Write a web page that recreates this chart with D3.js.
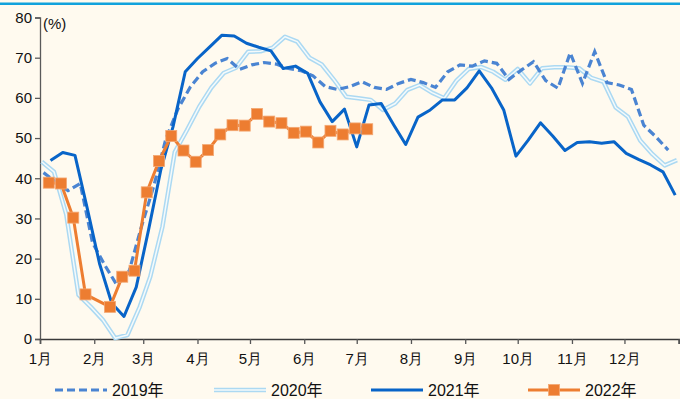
<!DOCTYPE html>
<html>
<head>
<meta charset="utf-8">
<script src="https://cdn.jsdelivr.net/npm/d3@7"></script>
<style>
body { margin: 0; background: #fffaef; }
svg { display: block; font-family: "Liberation Sans", Arial, "Noto Sans CJK SC", sans-serif; }
</style>
</head>
<body>
<svg id="chart" width="680" height="399"></svg>
<script>
// weekly readings, first Thursday of each year; null = no reading that week
const months = ["1月", "2月", "3月", "4月", "5月", "6月", "7月", "8月", "9月", "10月", "11月", "12月"];
const yTicks = [0, 10, 20, 30, 40, 50, 60, 70, 80];
const years = ["2019年", "2020年", "2021年", "2022年"];
const firstWeek = ["2019-01-03", "2020-01-02", "2021-01-07", "2022-01-06"];

const v2019 = [41.4, 39.1, 36.9, 38.7, 24, 18.4, 13.4, 17, 28, 38, 49.9, 57.4, 62.8, 66.5, 68.6, 69.8, 67.1, 68.2,
  68.8, 68.4, 67.3, 66.8, 65.5, 62.8, 62.1, 62.8, 64.0, 62.6, 62.1, 63.6, 64.6, 63.8, 62.6, 66.5, 68.2, 67.9,
  69.2, 68.6, 64.6, 66.9, 69.0, 64.3, 62.4, 71.2, 63.6, 71.5, 63.8, 63.2, 62.1, 53.2, 50.3, 47.0];
const v2020 = [44.1, 41.6, 31, 11, 8.0, 4.7, 0.2, 1.0, 8.0, 15.5, 28, 46.5, 52, 57.8, 62.6, 66.2, 67.5, 71.5,
  71.6, 72.5, 75.2, 74.0, 70.0, 68.3, 64.5, 60.3, 59.9, 59.5, 57.0, 58.6, 62.0, 63.2, 61.3, 59.9, 64.3, 67.2,
  67.7, 66.5, 64.5, 67.2, 63.6, 67.4, 67.6, 67.6, 67.4, 65.0, 64.0, 57.6, 55.3, 49.4, 46.0, 43.2, 44.5];
const v2021 = [44.4, 46.4, 45.7, 32.5, 18.8, 8.9, 5.6, 12.9, 27.1, 42.0, 52.8, 66.5, 69.8, 72.7, 75.6, 75.4, 73.6, 72.6,
  71.7, 67.3, 67.9, 66.1, 59.0, 54.1, 57.2, 47.8, 58.2, 58.6, 53.4, 48.4, 55.2, 57.0, 59.5, 59.5, 62.5, 66.7,
  62.5, 57.0, 45.5, 49.5, 53.8, 50.5, 46.9, 48.9, 49.1, 48.7, 49.1, 46.2, 44.7, 43.3, 41.6, 35.8];
const v2022 = [38.9, 38.7, 30.2, 11.1, null, 8.0, 15.5, 17.0, 36.5, 44.3, 50.5, 46.9, 44.1, 47.0, 50.9, 53.2, 53.1, 56.0,
  54.1, 53.7, 51.3, 51.6, 48.9, 51.8, 50.9, 52.4, 52.2];

const bg = "#fffaef";
const svg = d3.select("#chart");
svg.append("rect").attr("width", 680).attr("height", 399).attr("fill", bg);
svg.append("rect").attr("x", 0).attr("y", 2.5).attr("width", 680).attr("height", 2.5).attr("fill", "#12a2dc");

const x = d3.scaleTime().domain([new Date(2022, 0, 1), new Date(2023, 0, 1)]).range([40, 678.7]);
const y = d3.scaleLinear().domain([0, 80]).range([339, 17.5]);

// put every year on the same Jan-Dec axis
function toPoints(start, vals) {
  const s = d3.timeParse("%Y-%m-%d")(start);
  return vals.map((v, i) => {
    const d = d3.timeDay.offset(s, 7 * i);
    return { date: new Date(2022, d.getMonth(), d.getDate()), value: v };
  }).filter(p => p.value != null);
}

const line = d3.line().x(d => x(d.date)).y(d => y(d.value));

// axes
const yAxis = svg.append("g").attr("transform", "translate(40,0)")
  .call(d3.axisLeft(y).tickValues(yTicks).tickSize(5).tickPadding(3));
yAxis.selectAll("path, line").attr("stroke", "#5a5a5a").attr("stroke-width", 1.3);
yAxis.selectAll("text").attr("font-size", 15).attr("fill", "#111");

const xAxis = svg.append("g").attr("transform", "translate(0,339)")
  .call(d3.axisBottom(x)
    .tickValues(d3.range(13).map(m => new Date(2022, m, 1)))
    .tickFormat((d, i) => months[i] || "")
    .tickSize(5).tickPadding(9));
xAxis.select("path").attr("stroke", "#3a3a3a").attr("stroke-width", 1.5);
xAxis.selectAll("line").attr("stroke", "#555").attr("stroke-width", 1.3);
xAxis.selectAll("text").attr("font-size", 15).attr("fill", "#111");

svg.append("text").attr("x", 43).attr("y", 29).attr("font-size", 15).attr("fill", "#111").text("(%)");

// series
const p2019 = toPoints(firstWeek[0], v2019);
const p2020 = toPoints(firstWeek[1], v2020);
const p2021 = toPoints(firstWeek[2], v2021);
const p2022 = toPoints(firstWeek[3], v2022);

svg.append("path").datum(p2020).attr("d", line).attr("fill", "none")
  .attr("stroke", "#acd9f2").attr("stroke-width", 4.5).attr("stroke-linejoin", "round");
svg.append("path").datum(p2020).attr("d", line).attr("fill", "none")
  .attr("stroke", "#f4fafb").attr("stroke-width", 1.5).attr("stroke-linejoin", "round");

svg.append("path").datum(p2019).attr("d", line).attr("fill", "none")
  .attr("stroke", "#4a84d2").attr("stroke-width", 3.2).attr("stroke-dasharray", "8,4");

svg.append("path").datum(p2021).attr("d", line).attr("fill", "none")
  .attr("stroke", "#0864c8").attr("stroke-width", 3).attr("stroke-linejoin", "round");

svg.append("path").datum(p2022).attr("d", line).attr("fill", "none")
  .attr("stroke", "#ed7d31").attr("stroke-width", 3);
svg.selectAll(".m22").data(p2022).join("rect").attr("class", "m22")
  .attr("x", d => x(d.date) - 5.5).attr("y", d => y(d.value) - 5.5)
  .attr("width", 11).attr("height", 11)
  .attr("fill", "#ed7d31").attr("stroke", "#f3a772").attr("stroke-width", 0.8);

// legend
const lg = svg.append("g").attr("transform", "translate(0,390)");
const lgX = [55, 214, 371, 528];
years.forEach((name, i) => {
  const g = lg.append("g").attr("transform", `translate(${lgX[i]},0)`);
  if (i === 0) {
    g.append("line").attr("x1", 0).attr("x2", 52).attr("stroke", "#4a84d2").attr("stroke-width", 3.2).attr("stroke-dasharray", "8,4");
  } else if (i === 1) {
    g.append("line").attr("x1", 0).attr("x2", 52).attr("stroke", "#acd9f2").attr("stroke-width", 4.5);
    g.append("line").attr("x1", 0).attr("x2", 52).attr("stroke", "#f4fafb").attr("stroke-width", 1.5);
  } else if (i === 2) {
    g.append("line").attr("x1", 0).attr("x2", 52).attr("stroke", "#0864c8").attr("stroke-width", 3);
  } else {
    g.append("line").attr("x1", 0).attr("x2", 52).attr("stroke", "#ed7d31").attr("stroke-width", 3);
    g.append("rect").attr("x", 20.5).attr("y", -5.5).attr("width", 11).attr("height", 11)
      .attr("fill", "#ed7d31").attr("stroke", "#f3a772").attr("stroke-width", 0.8);
  }
  g.append("text").attr("x", 57).attr("y", 5.5).attr("font-size", 16).attr("fill", "#111").text(name);
});
</script>
</body>
</html>
